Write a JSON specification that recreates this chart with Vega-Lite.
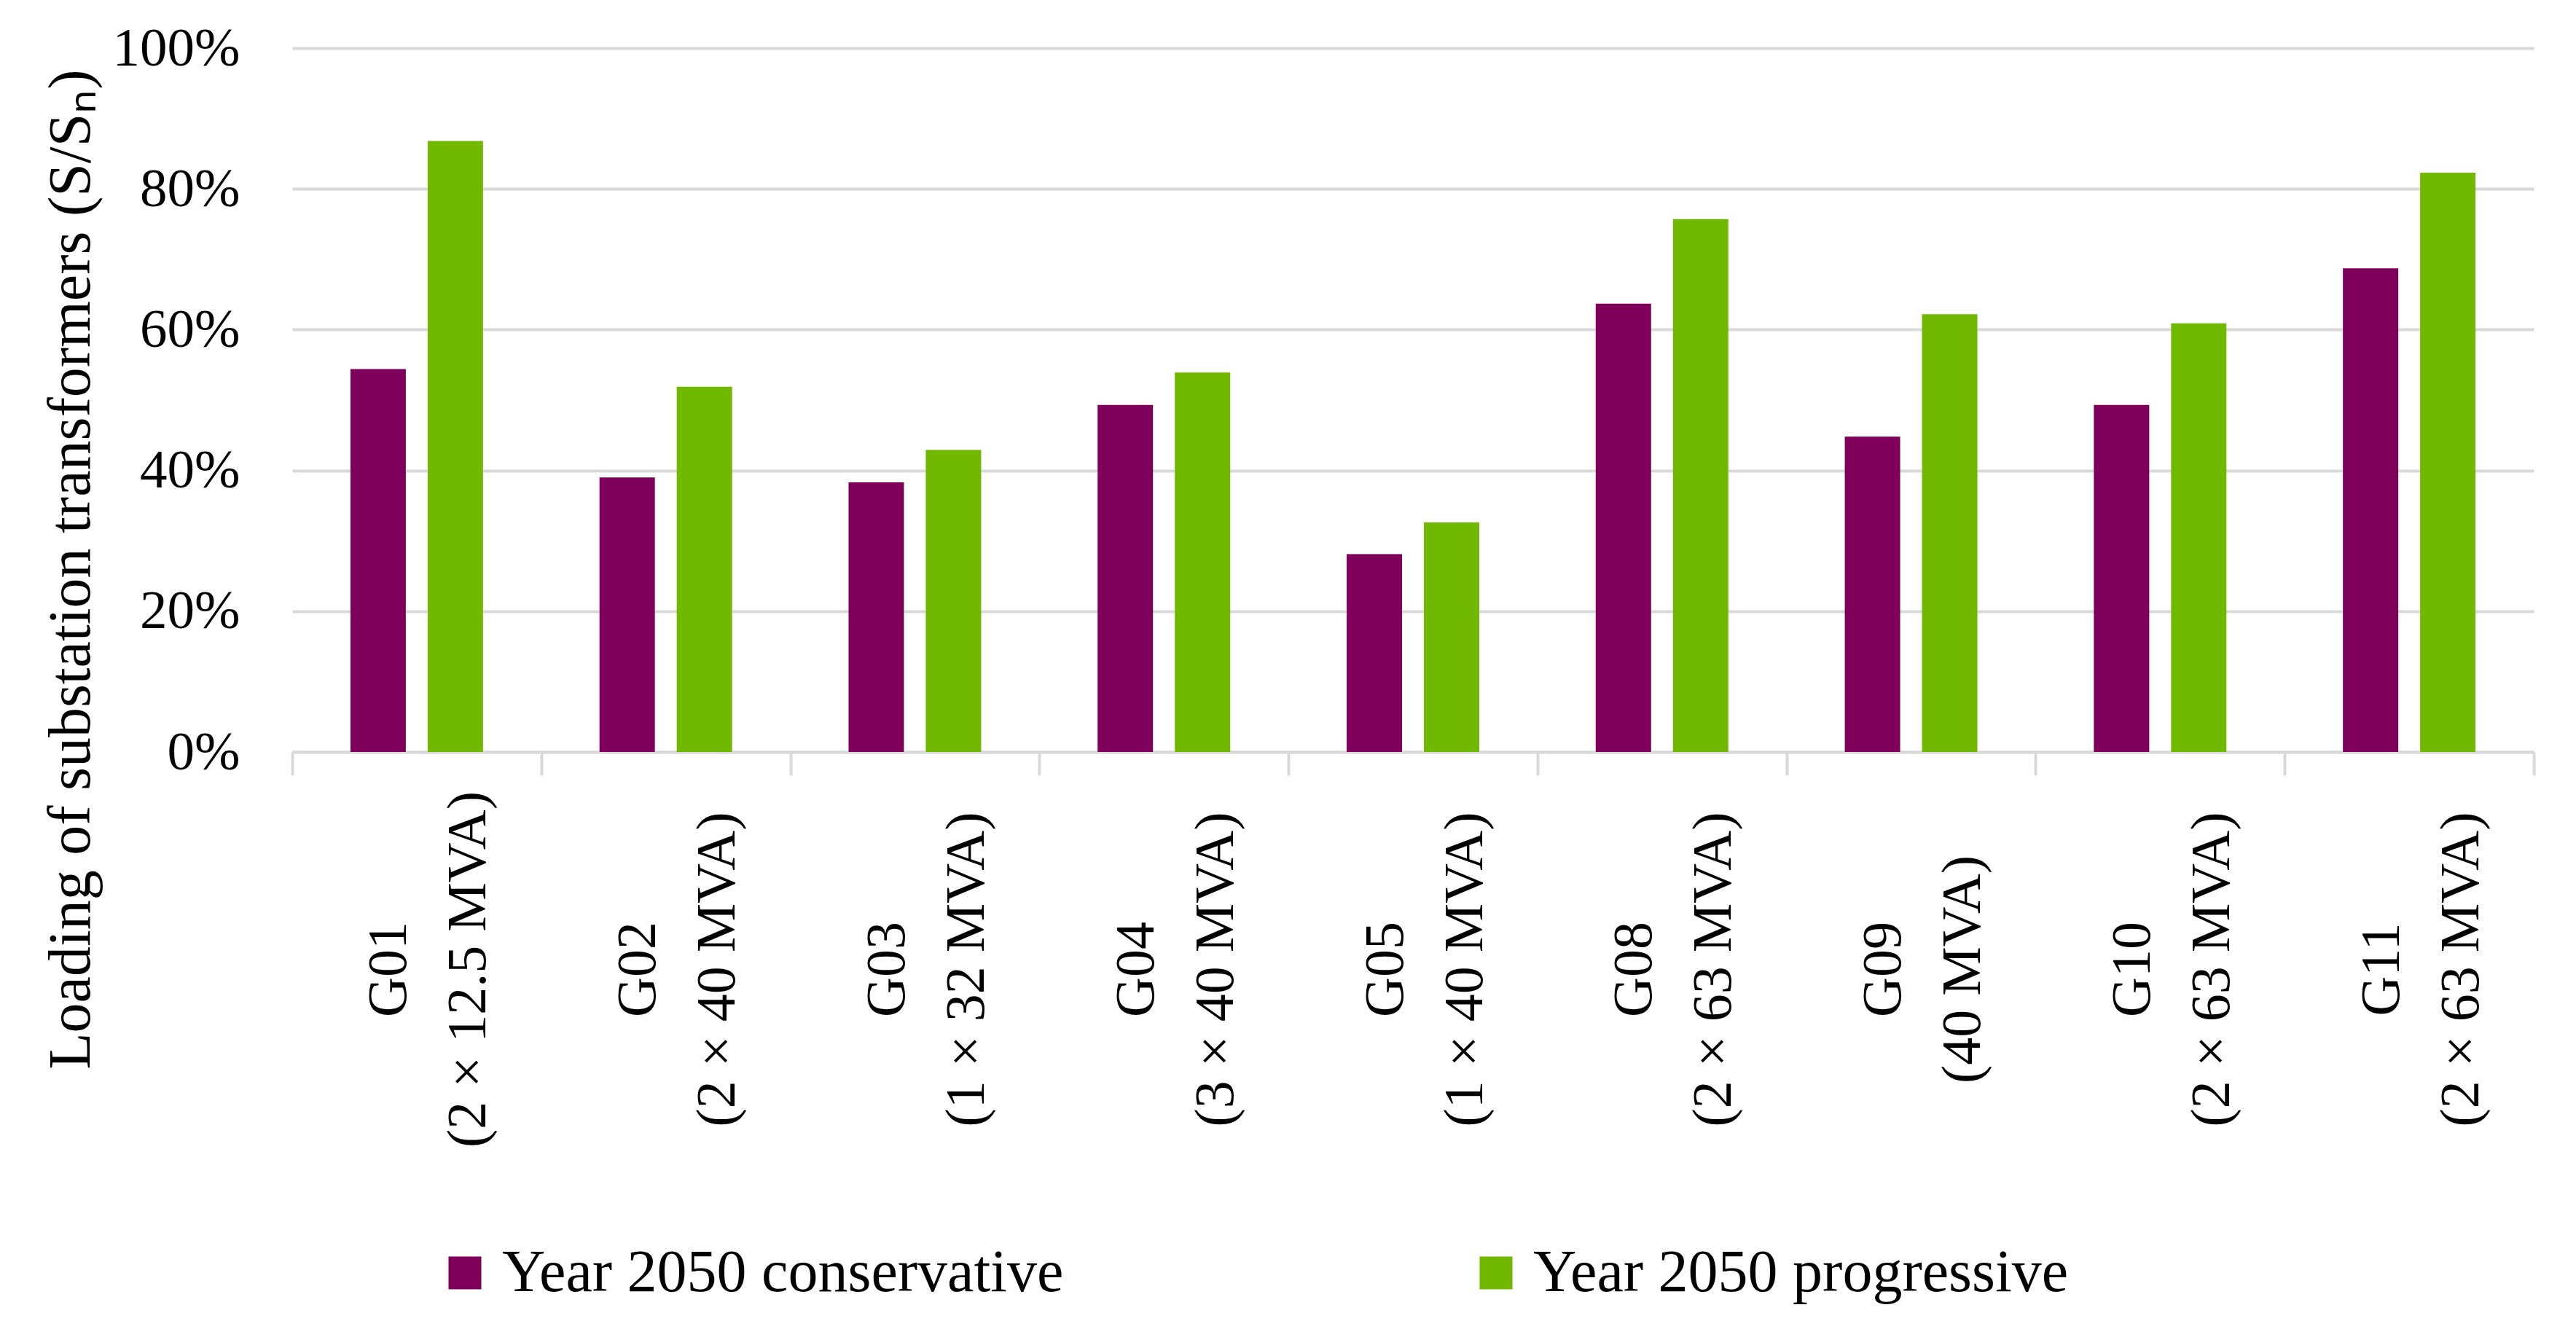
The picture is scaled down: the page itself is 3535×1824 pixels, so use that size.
{
  "$schema": "https://vega.github.io/schema/vega-lite/v6.json",
  "width": 3076,
  "height": 966,
  "autosize": {"type": "none"},
  "padding": {"left": 401, "top": 66, "right": 58, "bottom": 792},
  "background": "white",
  "config": {
    "view": {"stroke": null},
    "font": "Liberation Serif",
    "axis": {"labelFont": "Liberation Serif", "titleFont": "Liberation Serif", "labelColor": "black", "titleColor": "black"},
    "legend": {"labelFont": "Liberation Serif", "labelColor": "black"}
  },
  "data": {
    "values": [
      {"substation": "G01 (2 × 12.5 MVA)", "scenario": "Year 2050 conservative", "loading": 0.544},
      {"substation": "G01 (2 × 12.5 MVA)", "scenario": "Year 2050 progressive", "loading": 0.868},
      {"substation": "G02 (2 × 40 MVA)", "scenario": "Year 2050 conservative", "loading": 0.390},
      {"substation": "G02 (2 × 40 MVA)", "scenario": "Year 2050 progressive", "loading": 0.519},
      {"substation": "G03 (1 × 32 MVA)", "scenario": "Year 2050 conservative", "loading": 0.383},
      {"substation": "G03 (1 × 32 MVA)", "scenario": "Year 2050 progressive", "loading": 0.429},
      {"substation": "G04 (3 × 40 MVA)", "scenario": "Year 2050 conservative", "loading": 0.493},
      {"substation": "G04 (3 × 40 MVA)", "scenario": "Year 2050 progressive", "loading": 0.539},
      {"substation": "G05 (1 × 40 MVA)", "scenario": "Year 2050 conservative", "loading": 0.281},
      {"substation": "G05 (1 × 40 MVA)", "scenario": "Year 2050 progressive", "loading": 0.326},
      {"substation": "G08 (2 × 63 MVA)", "scenario": "Year 2050 conservative", "loading": 0.637},
      {"substation": "G08 (2 × 63 MVA)", "scenario": "Year 2050 progressive", "loading": 0.757},
      {"substation": "G09 (40 MVA)", "scenario": "Year 2050 conservative", "loading": 0.448},
      {"substation": "G09 (40 MVA)", "scenario": "Year 2050 progressive", "loading": 0.622},
      {"substation": "G10 (2 × 63 MVA)", "scenario": "Year 2050 conservative", "loading": 0.493},
      {"substation": "G10 (2 × 63 MVA)", "scenario": "Year 2050 progressive", "loading": 0.609},
      {"substation": "G11 (2 × 63 MVA)", "scenario": "Year 2050 conservative", "loading": 0.687},
      {"substation": "G11 (2 × 63 MVA)", "scenario": "Year 2050 progressive", "loading": 0.823}
    ]
  },
  "mark": {"type": "bar"},
  "encoding": {
    "x": {
      "field": "substation",
      "type": "nominal",
      "sort": null,
      "scale": {"paddingInner": 0, "paddingOuter": 0},
      "axis": {
        "title": null,
        "labelExpr": "[slice(datum.label, 0, 3), slice(datum.label, 4)]",
        "labelAngle": -90,
        "labelAlign": "center",
        "labelBaseline": "middle",
        "labelFontSize": 76,
        "labelLineHeight": 109,
        "labelPadding": 266,
        "labelOffset": -38,
        "labelLimit": 2000,
        "labelOverlap": false,
        "domainColor": "#d9d9d9",
        "domainWidth": 4,
        "ticks": true,
        "tickBand": "extent",
        "tickColor": "#d9d9d9",
        "tickWidth": 4,
        "tickSize": 32,
        "grid": false
      }
    },
    "xOffset": {
      "field": "scenario",
      "type": "nominal",
      "scale": {"paddingInner": 0.283, "paddingOuter": 0.754}
    },
    "y": {
      "field": "loading",
      "type": "quantitative",
      "scale": {"domain": [0, 1], "nice": false},
      "axis": {
        "title": "Loading of substation transformers (S/Sₙ)",
        "titleFontSize": 82,
        "titleFontWeight": "normal",
        "titleAngle": -90,
        "titleAlign": "center",
        "titleBaseline": "alphabetic",
        "titleX": -279,
        "titleY": 715,
        "values": [0, 0.2, 0.4, 0.6, 0.8, 1],
        "format": ".0%",
        "labelFontSize": 75,
        "labelPadding": 72,
        "ticks": false,
        "tickSize": 0,
        "domain": false,
        "grid": true,
        "gridColor": "#d9d9d9",
        "gridWidth": 4
      }
    },
    "color": {
      "field": "scenario",
      "type": "nominal",
      "scale": {"domain": ["Year 2050 conservative", "Year 2050 progressive"], "range": ["#7f005a", "#70b900"]},
      "legend": {
        "title": null,
        "orient": "none",
        "legendX": 196,
        "legendY": 1640,
        "direction": "horizontal",
        "columns": 2,
        "columnPadding": 552,
        "symbolType": "square",
        "symbolSize": 2025,
        "symbolStrokeWidth": 0,
        "symbolOpacity": 1,
        "labelFontSize": 82,
        "labelOffset": 10,
        "labelLimit": 2000
      }
    }
  }
}
